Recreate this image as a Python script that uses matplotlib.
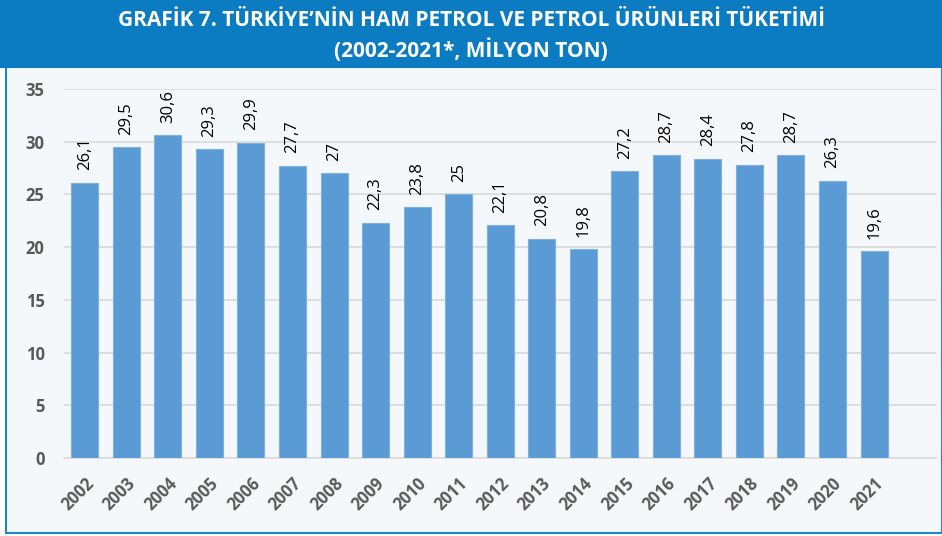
import matplotlib.pyplot as plt
from matplotlib.patches import Rectangle

years = ['2002', '2003', '2004', '2005', '2006', '2007', '2008', '2009', '2010', '2011',
         '2012', '2013', '2014', '2015', '2016', '2017', '2018', '2019', '2020', '2021']
consumption = [26.1, 29.5, 30.6, 29.3, 29.9, 27.7, 27, 22.3, 23.8, 25,
               22.1, 20.8, 19.8, 27.2, 28.7, 28.4, 27.8, 28.7, 26.3, 19.6]
yticks = [0, 5, 10, 15, 20, 25, 30, 35]

title_font = ['Open Sans', 'DejaVu Sans']
label_font = ['Open Sans', 'DejaVu Sans']

fig = plt.figure(figsize=(9.42, 5.36), dpi=100)
fig.patch.set_facecolor('white')

# background panel and title band
fig.add_artist(Rectangle((0.006, 0.005), 0.994, 0.87, transform=fig.transFigure,
                         facecolor='#F4F8FB', edgecolor='#1C87C9', linewidth=1.5, zorder=0))
fig.add_artist(Rectangle((0, 0.873), 1, 0.127, transform=fig.transFigure,
                         facecolor='#0B7BC2', edgecolor='none', zorder=1))
fig.text(0.5, 0.962, 'GRAFİK 7. TÜRKİYE’NİN HAM PETROL VE PETROL ÜRÜNLERİ TÜKETİMİ',
         ha='center', va='center', color='white', fontsize=15, fontweight='bold',
         family=title_font)
fig.text(0.5, 0.907, '(2002-2021*, MİLYON TON)', ha='center', va='center',
         color='white', fontsize=15, fontweight='bold', family=title_font)

ax = fig.add_axes([0.068, 0.1455, 0.926, 0.6884])
ax.set_facecolor('none')
x = range(len(years))
ax.bar(x, consumption, width=0.65, color='#5B9BD5', edgecolor='#7FB0DE',
       linewidth=0.8, zorder=3)

for xi, v in zip(x, consumption):
    lbl = f'{v:g}'.replace('.', ',')
    ax.annotate(lbl, (xi, v), xytext=(0, 9), textcoords='offset points',
                rotation=90, ha='center', va='bottom', fontsize=12,
                color='black', family=label_font)

ax.set_xlim(-0.5, 20.5)
ax.set_ylim(0, 35)
ax.set_yticks(yticks)
ax.set_yticklabels([str(t) for t in yticks], fontsize=12, fontweight='bold',
                   color='#595959', family=label_font)
ax.set_xticks(list(x))
ax.set_xticklabels(years, rotation=45, ha='right', va='top', rotation_mode='anchor',
                   fontsize=12, fontweight='bold', color='#595959', family=label_font)
ax.tick_params(axis='y', length=0, pad=14)
ax.tick_params(axis='x', length=0, pad=12)
ax.grid(axis='y', color='#D9D9D9', linewidth=1.2, zorder=0)
for s in ['top', 'right', 'left']:
    ax.spines[s].set_visible(False)
ax.spines['bottom'].set_color('#D9D9D9')
ax.spines['bottom'].set_linewidth(1.2)

fig.savefig('out.png', dpi=100)
